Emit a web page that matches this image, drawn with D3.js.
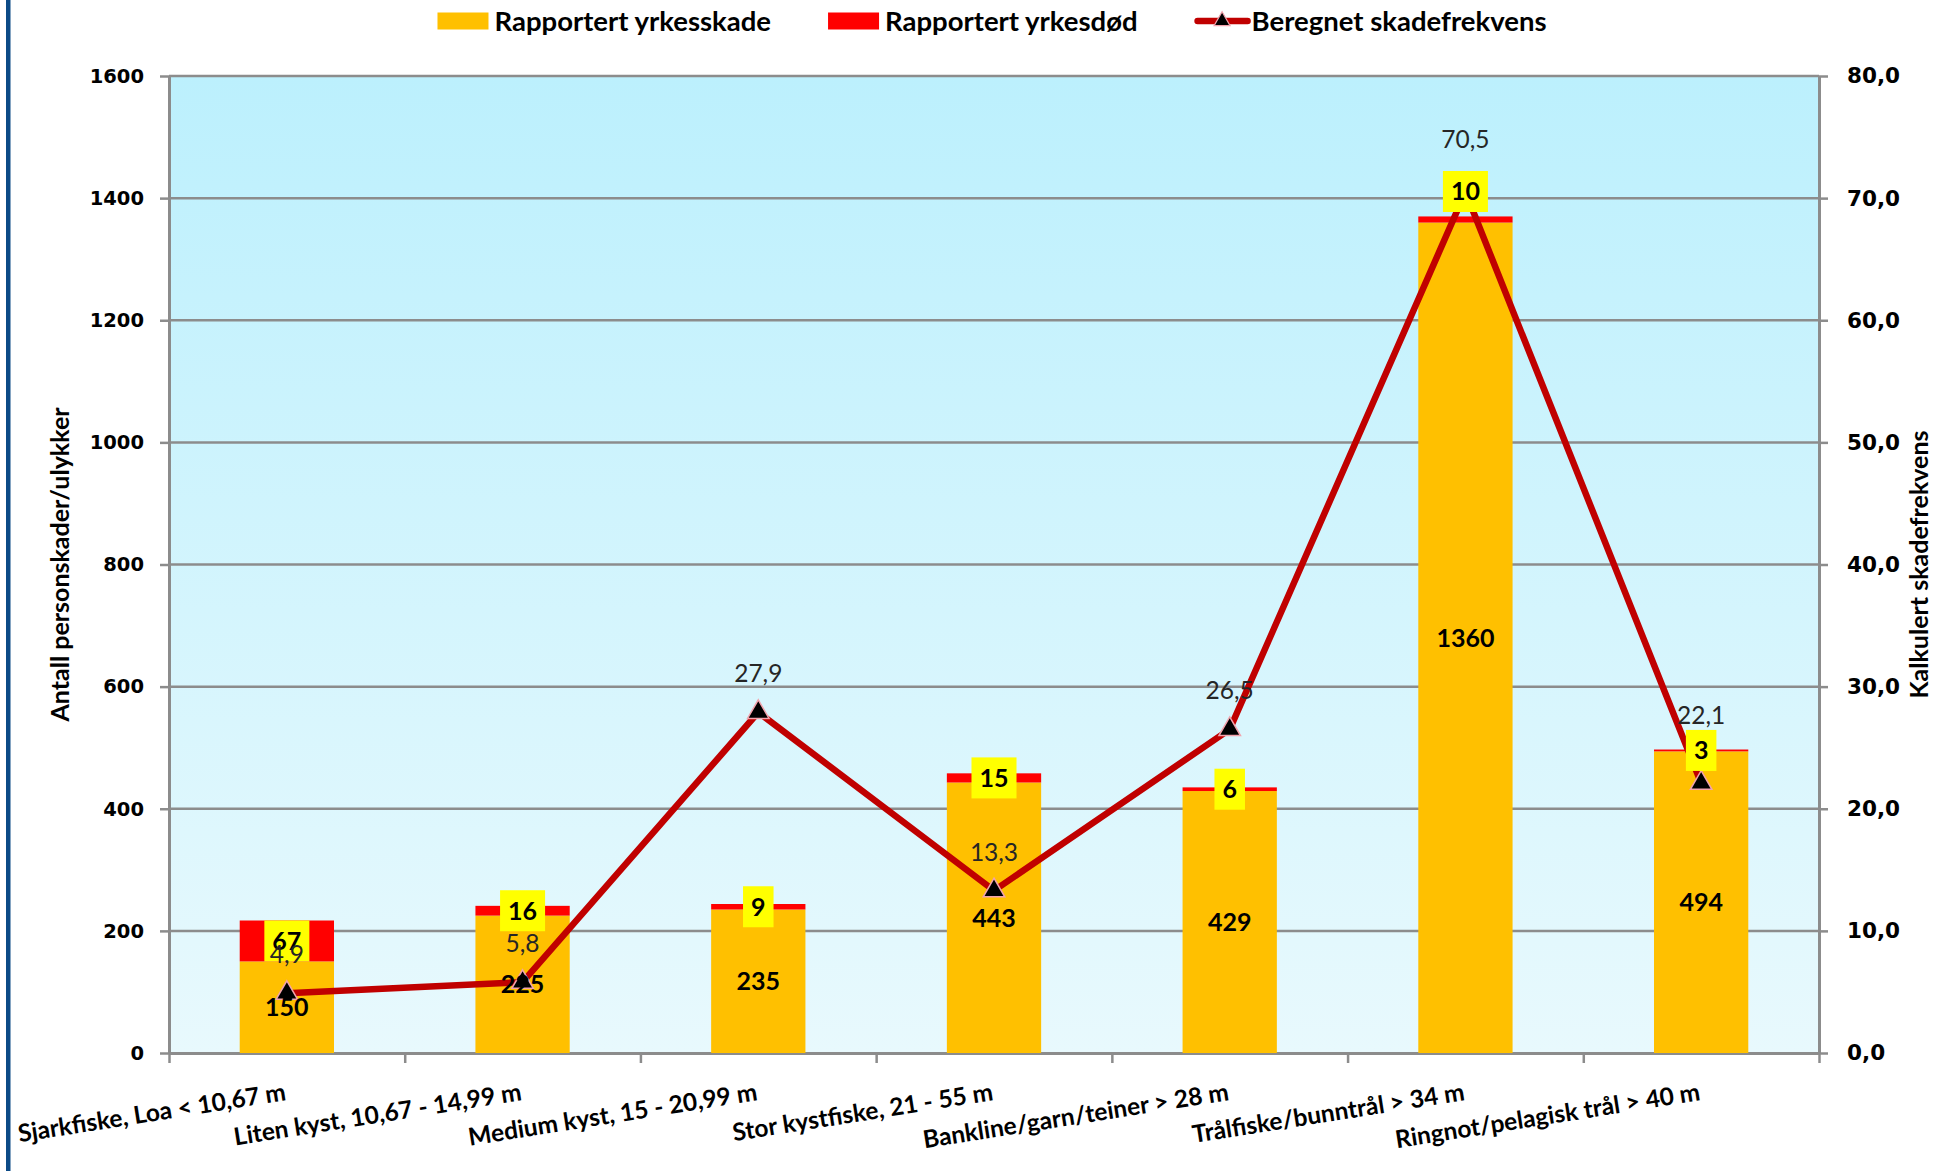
<!DOCTYPE html>
<html>
<head>
<meta charset="utf-8">
<script src="https://cdn.jsdelivr.net/npm/d3@7"></script>
<style>
  body { margin: 0; background: #fff; }
  svg { display: block; }
  text { font-family: Lato, "Open Sans", sans-serif; }
</style>
</head>
<body>
<div id="chart"></div>
<script>
const categories = [
  "Sjarkfiske, Loa < 10,67 m",
  "Liten kyst, 10,67 - 14,99 m",
  "Medium kyst, 15 - 20,99 m",
  "Stor kystfiske, 21 - 55 m",
  "Bankline/garn/teiner > 28 m",
  "Trålfiske/bunntrål > 34 m",
  "Ringnot/pelagisk trål > 40 m"
];
const injuries = [150, 225, 235, 443, 429, 1360, 494];   // Rapportert yrkesskade
const deaths = [67, 16, 9, 15, 6, 10, 3];                // Rapportert yrkesdød
const frequency = [4.9, 5.8, 27.9, 13.3, 26.5, 70.5, 22.1]; // Beregnet skadefrekvens
const leftTicks = [0, 200, 400, 600, 800, 1000, 1200, 1400, 1600];
const rightTicks = [0, 10, 20, 30, 40, 50, 60, 70, 80];
const legendLabels = ["Rapportert yrkesskade", "Rapportert yrkesdød", "Beregnet skadefrekvens"];

// a few labels were dragged by hand in the original (pixel nudges, keyed by category index)
const deathLabelNudge = { 5: -28 };
const freqLabelNudge = { 5: -14, 6: -29 };

const fullwidth = 1946;
const fullheight = 1171;
const plot = { left: 169, right: 1819, top: 76, bottom: 1053 };

const yellow = "#ffc000", red = "#ff0000", lineRed = "#c00000", grey = "#8c8c8c";
const comma = v => d3.format(".1f")(v).replace(".", ",");

const svg = d3.select("#chart")
  .append("svg")
  .attr("width", fullwidth)
  .attr("height", fullheight);

// dark blue frame strip on the left
svg.append("rect")
  .attr("x", 6).attr("y", 0)
  .attr("width", 4.5).attr("height", fullheight)
  .attr("fill", "#0c4a86");

// plot area gradient
const defs = svg.append("defs");
const grad = defs.append("linearGradient")
  .attr("id", "plotBg")
  .attr("x1", "0%").attr("x2", "0%")
  .attr("y1", "0%").attr("y2", "100%");
grad.append("stop").attr("offset", "0%").attr("stop-color", "#bcf0fd");
grad.append("stop").attr("offset", "100%").attr("stop-color", "#e8f9fd");

svg.append("rect")
  .attr("x", plot.left).attr("y", plot.top)
  .attr("width", plot.right - plot.left)
  .attr("height", plot.bottom - plot.top)
  .attr("fill", "url(#plotBg)");

// scales
const x = d3.scaleBand()
  .domain(categories)
  .range([plot.left, plot.right])
  .paddingInner(0.6)
  .paddingOuter(0.3);
const xEdges = d3.scaleLinear().domain([0, categories.length]).range([plot.left, plot.right]);
const yLeft = d3.scaleLinear().domain([0, 1600]).range([plot.bottom, plot.top]);
const yRight = d3.scaleLinear().domain([0, 80]).range([plot.bottom, plot.top]);
const cx = d => x(d) + x.bandwidth() / 2;

// gridlines
svg.append("g")
  .selectAll("line")
  .data(leftTicks.slice(1))
  .enter().append("line")
  .attr("x1", plot.left).attr("x2", plot.right)
  .attr("y1", d => yLeft(d)).attr("y2", d => yLeft(d))
  .attr("stroke", grey)
  .attr("stroke-width", 2.5);

// axes
const styleAxis = (size) => (g) => {
  g.select(".domain").attr("stroke", grey).attr("stroke-width", 3);
  g.selectAll(".tick line").attr("stroke", grey).attr("stroke-width", 2.5);
  g.selectAll(".tick text")
    .attr("fill", "#000")
    .style("font-family", "'DejaVu Sans', Verdana, sans-serif")
    .style("font-weight", "bold")
    .style("font-size", size);
};

svg.append("g")
  .attr("transform", `translate(${plot.left},0)`)
  .call(d3.axisLeft(yLeft).tickValues(leftTicks).tickSize(9).tickSizeOuter(0).tickPadding(16).tickFormat(d3.format("d")))
  .call(styleAxis("19.5px"));

svg.append("g")
  .attr("transform", `translate(${plot.right},0)`)
  .call(d3.axisRight(yRight).tickValues(rightTicks).tickSize(9).tickSizeOuter(0).tickPadding(19).tickFormat(comma))
  .call(styleAxis("21.5px"));

svg.append("g")
  .attr("transform", `translate(0,${plot.bottom})`)
  .call(d3.axisBottom(xEdges).tickValues(d3.range(categories.length + 1)).tickSize(10).tickSizeOuter(0).tickFormat(""))
  .call(styleAxis("0px"));

// category labels
svg.append("g")
  .selectAll("text")
  .data(categories)
  .enter().append("text")
  .attr("transform", d => `translate(${cx(d)},${plot.bottom + 47}) rotate(-9)`)
  .attr("text-anchor", "end")
  .style("font-weight", "bold")
  .style("font-size", "24.5px")
  .attr("fill", "#000")
  .text(d => d);

// axis titles
svg.append("text")
  .attr("transform", `translate(69,${(plot.top + plot.bottom) / 2}) rotate(-90)`)
  .attr("text-anchor", "middle")
  .style("font-weight", "bold")
  .style("font-size", "25px")
  .text("Antall personskader/ulykker");

svg.append("text")
  .attr("transform", `translate(1928,${(plot.top + plot.bottom) / 2}) rotate(-90)`)
  .attr("text-anchor", "middle")
  .style("font-weight", "bold")
  .style("font-size", "25px")
  .text("Kalkulert skadefrekvens");

// stacked bars
const bars = svg.append("g");
bars.selectAll(".inj")
  .data(categories)
  .enter().append("rect")
  .attr("class", "inj")
  .attr("x", d => x(d))
  .attr("width", x.bandwidth())
  .attr("y", (d, i) => yLeft(injuries[i]))
  .attr("height", (d, i) => yLeft(0) - yLeft(injuries[i]))
  .attr("fill", yellow);
bars.selectAll(".dead")
  .data(categories)
  .enter().append("rect")
  .attr("class", "dead")
  .attr("x", d => x(d))
  .attr("width", x.bandwidth())
  .attr("y", (d, i) => yLeft(injuries[i] + deaths[i]))
  .attr("height", (d, i) => yLeft(injuries[i]) - yLeft(injuries[i] + deaths[i]))
  .attr("fill", red);

// frequency line
const line = d3.line()
  .x((d, i) => cx(categories[i]))
  .y(d => yRight(d));
svg.append("path")
  .datum(frequency)
  .attr("d", line)
  .attr("fill", "none")
  .attr("stroke", lineRed)
  .attr("stroke-width", 6.5)
  .attr("stroke-linejoin", "miter");

const tri = d3.symbol().type(d3.symbolTriangle).size(200);
svg.append("g")
  .selectAll("path")
  .data(frequency)
  .enter().append("path")
  .attr("d", tri)
  .attr("transform", (d, i) => `translate(${cx(categories[i])},${yRight(d)})`)
  .attr("fill", "#000")
  .attr("stroke", "#f2a3ad")
  .attr("stroke-width", 1.5);

// labels for injuries
svg.append("g")
  .selectAll("text")
  .data(categories)
  .enter().append("text")
  .attr("x", d => cx(d))
  .attr("y", (d, i) => yLeft(injuries[i] / 2))
  .attr("dy", "0.36em")
  .attr("text-anchor", "middle")
  .style("font-weight", "bold")
  .style("font-size", "25px")
  .text((d, i) => injuries[i]);

// labels for deaths, on yellow boxes
const deadLabels = svg.append("g")
  .selectAll("g")
  .data(categories)
  .enter().append("g")
  .attr("transform", (d, i) => `translate(${cx(d)},${yLeft(injuries[i] + deaths[i] / 2) + (deathLabelNudge[i] || 0)})`);
deadLabels.append("rect").attr("fill", "#ffff00");
deadLabels.append("text")
  .attr("dy", "0.36em")
  .attr("text-anchor", "middle")
  .style("font-weight", "bold")
  .style("font-size", "25px")
  .text((d, i) => deaths[i]);
deadLabels.each(function () {
  const g = d3.select(this);
  const w = g.select("text").node().getComputedTextLength() + 16;
  g.select("rect")
    .attr("x", -w / 2).attr("y", -20.5)
    .attr("width", w).attr("height", 41);
});

// labels for frequency
svg.append("g")
  .selectAll("text")
  .data(frequency)
  .enter().append("text")
  .attr("x", (d, i) => cx(categories[i]))
  .attr("y", (d, i) => yRight(d) - 30 + (freqLabelNudge[i] || 0))
  .attr("text-anchor", "middle")
  .style("font-size", "24.5px")
  .attr("fill", "#262626")
  .text(d => comma(d));

// legend
const legend = svg.append("g").attr("class", "legend");
const legendY = 21;
const items = legend.selectAll("g")
  .data(legendLabels)
  .enter().append("g");
items.append("text")
  .attr("y", legendY)
  .attr("dy", "0.36em")
  .style("font-weight", "bold")
  .style("font-size", "27.5px")
  .text(d => d);
let cursor = 0;
const swatchW = 51, textGap = 6, itemGap = 57;
items.each(function (d, i) {
  const g = d3.select(this);
  const tw = g.select("text").node().getComputedTextLength();
  g.select("text").attr("x", cursor + swatchW + textGap);
  if (i < 2) {
    g.insert("rect", "text")
      .attr("x", cursor).attr("y", legendY - 8.5)
      .attr("width", swatchW).attr("height", 17)
      .attr("fill", i === 0 ? yellow : red);
  } else {
    g.insert("line", "text")
      .attr("x1", cursor + 3).attr("x2", cursor + swatchW + 2)
      .attr("y1", legendY).attr("y2", legendY)
      .attr("stroke", lineRed).attr("stroke-width", 6.5)
      .attr("stroke-linecap", "round");
    g.insert("path", "text")
      .attr("d", d3.symbol().type(d3.symbolTriangle).size(110))
      .attr("transform", `translate(${cursor + swatchW / 2 + 2},${legendY})`)
      .attr("fill", "#000")
      .attr("stroke", "#f2a3ad")
      .attr("stroke-width", 1.2);
  }
  cursor += swatchW + textGap + tw + itemGap;
});
const legendWidth = cursor - itemGap;
legend.attr("transform", `translate(${992 - legendWidth / 2},0)`);
</script>
</body>
</html>
